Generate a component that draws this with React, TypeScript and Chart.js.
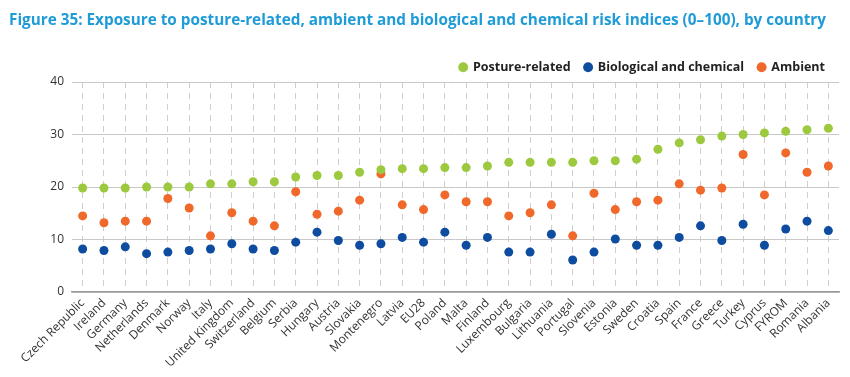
import React, { useEffect, useRef } from "react";
import { Chart, registerables } from "chart.js";
Chart.register(...registerables);

const countries = [
  "Czech Republic", "Ireland", "Germany", "Netherlands", "Denmark", "Norway", "Italy",
  "United Kingdom", "Switzerland", "Belgium", "Serbia", "Hungary", "Austria", "Slovakia",
  "Montenegro", "Latvia", "EU28", "Poland", "Malta", "Finland", "Luxembourg", "Bulgaria",
  "Lithuania", "Portugal", "Slovenia", "Estonia", "Sweden", "Croatia", "Spain", "France",
  "Greece", "Turkey", "Cyprus", "FYROM", "Romania", "Albania",
];

const postureRelated = [
  19.8, 19.8, 19.8, 20.0, 20.0, 20.0, 20.6, 20.6, 21.0, 21.0, 21.9, 22.2, 22.2, 22.8,
  23.3, 23.5, 23.5, 23.7, 23.7, 24.0, 24.7, 24.7, 24.7, 24.7, 25.0, 25.0, 25.3, 27.2,
  28.4, 29.0, 29.7, 30.0, 30.3, 30.6, 30.9, 31.2,
];

const biologicalChemical = [
  8.2, 7.9, 8.6, 7.3, 7.6, 7.9, 8.2, 9.2, 8.2, 7.9, 9.5, 11.4, 9.8, 8.9,
  9.2, 10.4, 9.5, 11.4, 8.9, 10.4, 7.6, 7.6, 11.0, 6.1, 7.6, 10.1, 8.9, 8.9,
  10.4, 12.6, 9.8, 12.9, 8.9, 12.0, 13.5, 11.7,
];

const ambient = [
  14.5, 13.2, 13.5, 13.5, 17.8, 16.0, 10.7, 15.1, 13.5, 12.6, 19.1, 14.8, 15.4, 17.5,
  22.5, 16.6, 15.7, 18.5, 17.2, 17.2, 14.5, 15.1, 16.6, 10.7, 18.8, 15.7, 17.2, 17.5,
  20.6, 19.4, 19.8, 26.2, 18.5, 26.5, 22.8, 24.0,
];

const yTickValues = [0, 10, 20, 30, 40];

const GREEN = "#9cc93d";
const BLUE = "#0d4c9e";
const ORANGE = "#f0682a";

export default function App() {
  const ref = useRef<HTMLCanvasElement>(null);

  useEffect(() => {
    const tickFont = { family: "Open Sans", size: 12 };
    const ds = (label: string, data: number[], color: string) => ({
      label,
      data,
      backgroundColor: color,
      borderColor: color,
      showLine: false,
      pointRadius: 4.5,
      pointBorderWidth: 0,
      pointStyle: "circle" as const,
    });
    const chart = new Chart(ref.current!, {
      type: "line",
      data: {
        labels: countries,
        datasets: [
          ds("Posture-related", postureRelated, GREEN),
          ds("Biological and chemical", biologicalChemical, BLUE),
          ds("Ambient", ambient, ORANGE),
        ],
      },
      options: {
        animation: false,
        responsive: false,
        layout: { padding: { top: 47, right: 11, left: 0, bottom: 0 } },
        plugins: {
          title: { display: false },
          tooltip: { enabled: false },
          legend: {
            align: "end",
            maxHeight: 35,
            labels: {
              usePointStyle: true,
              boxWidth: 7,
              boxHeight: 7,
              padding: 14,
              color: "#222",
              font: { family: "Open Sans", size: 12.5, weight: "bold" },
            },
          },
        },
        scales: {
          x: {
            offset: true,
            grid: { offset: false, color: "#cfcfcf", drawTicks: false, lineWidth: 1 },
            border: { dash: [6, 5], color: "#9a9a9a", width: 1.5 },
            ticks: {
              autoSkip: false,
              maxRotation: 45,
              minRotation: 45,
              color: "#333",
              font: tickFont,
              padding: 4,
            },
            afterFit: (s: any) => {
              s.height = 85;
            },
          },
          y: {
            min: 0,
            max: 40,
            afterBuildTicks: (s: any) => {
              s.ticks = yTickValues.map((v) => ({ value: v }));
            },
            ticks: { color: "#333", font: tickFont, padding: 8 },
            grid: { color: "#c8c8c8", drawTicks: false, lineWidth: 1 },
            border: { display: false },
            afterFit: (s: any) => {
              s.width = 72;
            },
          },
        },
      },
    });
    return () => chart.destroy();
  }, []);

  return (
    <div style={{ position: "absolute", left: 0, top: 0, width: 850, height: 377, background: "#fff" }}>
      <canvas ref={ref} width={850} height={377} style={{ display: "block" }} />
      <div
        style={{
          position: "absolute",
          left: 9,
          top: 9,
          color: "#1f9bd7",
          fontFamily: "'Open Sans', sans-serif",
          fontWeight: 700,
          fontSize: 15.3,
          whiteSpace: "nowrap",
        }}
      >
        Figure 35: Exposure to posture-related, ambient and biological and chemical risk indices (0–100), by country
      </div>
    </div>
  );
}
